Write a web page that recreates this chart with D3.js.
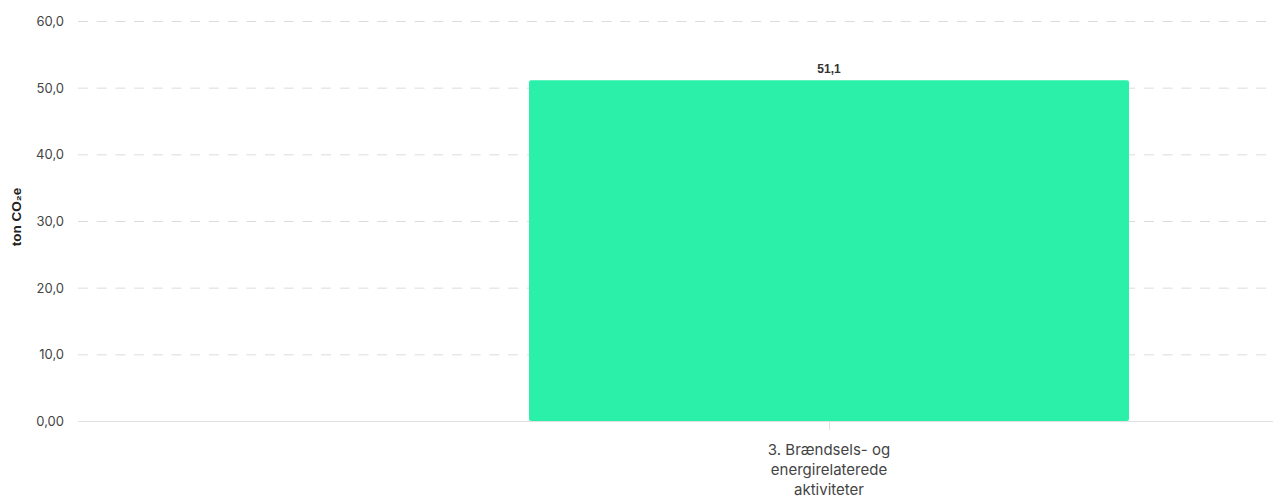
<!DOCTYPE html>
<html><head><meta charset="utf-8">
<script src="https://cdn.jsdelivr.net/npm/d3@7"></script>
<style>
html,body{margin:0;padding:0;background:#fff;overflow:hidden;}
svg{display:block;}
</style></head>
<body>
<svg id="chart" width="1273" height="497"></svg>
<script>
const categories = ["3. Brændsels- og energirelaterede aktiviteter"];
const categoryLines = [["3. Brændsels- og", "energirelaterede", "aktiviteter"]];
const values = [51.1];
const valueLabels = ["51,1"];
const yTicks = [0, 10, 20, 30, 40, 50, 60];
const yTickLabels = ["0,00", "10,0", "20,0", "30,0", "40,0", "50,0", "60,0"];
const yTitle = "ton CO\u2082e";

(function() {
const svg = d3.select("#chart");
const pLeft = 78, pRight = 1580, pTop = 21, pBottom = 421;

const y = d3.scaleLinear().domain([0, 60]).range([pBottom, pTop]);
const x = d3.scaleBand().domain(categories).range([pLeft, pRight]).paddingInner(0.6).paddingOuter(0.3);

// grid
svg.append("g").selectAll("line").data(yTicks).join("line")
  .attr("x1", pLeft).attr("x2", pRight)
  .attr("y1", d => y(d) + 0.5).attr("y2", d => y(d) + 0.5)
  .attr("stroke", "#dcdcdc").attr("stroke-width", 1)
  .attr("stroke-dasharray", "10,8.7");

// y tick labels
svg.append("g").selectAll("text").data(yTicks).join("text")
  .attr("x", 64).attr("y", d => y(d) + 0.5)
  .attr("dy", "0.35em").attr("text-anchor", "end")
  .attr("font-family", "Inter, 'Noto Sans', sans-serif").attr("font-size", 13)
  .attr("fill", "#444")
  .text((d, i) => yTickLabels[i]);

// y title
svg.append("text")
  .attr("transform", `translate(21,217) rotate(-90)`)
  .attr("text-anchor", "middle")
  .attr("font-family", "'Liberation Sans', Arial, sans-serif")
  .attr("font-size", 13.5).attr("font-weight", "bold").attr("fill", "#222")
  .text(yTitle);

// bars
const bw = 600;
svg.append("g").selectAll("rect").data(values).join("rect")
  .attr("x", (d, i) => x(categories[i]) + x.bandwidth() / 2 - bw / 2)
  .attr("width", bw)
  .attr("y", d => y(d))
  .attr("height", d => y(0) - y(d))
  .attr("rx", 2).attr("ry", 2)
  .attr("fill", "#2af0aa");

// baseline
svg.append("line")
  .attr("x1", pLeft).attr("x2", pRight)
  .attr("y1", pBottom + 0.5).attr("y2", pBottom + 0.5)
  .attr("stroke", "#e0e0e0").attr("stroke-width", 1);

// x tick
svg.append("g").selectAll("line").data(categories).join("line")
  .attr("x1", d => x(d) + x.bandwidth() / 2 + 0.5).attr("x2", d => x(d) + x.bandwidth() / 2 + 0.5)
  .attr("y1", pBottom).attr("y2", pBottom + 9)
  .attr("stroke", "#e0e0e0");

// value labels
svg.append("g").selectAll("text").data(values).join("text")
  .attr("x", (d, i) => x(categories[i]) + x.bandwidth() / 2)
  .attr("y", d => y(d) - 7)
  .attr("text-anchor", "middle")
  .attr("font-family", "'Liberation Sans', Arial, sans-serif")
  .attr("font-size", 12).attr("font-weight", "bold").attr("fill", "#333")
  .text((d, i) => valueLabels[i]);

// category labels
const cl = svg.append("g").selectAll("text").data(categories).join("text")
  .attr("text-anchor", "middle")
  .attr("font-family", "Inter, 'Noto Sans', sans-serif").attr("font-size", 15)
  .attr("fill", "#444");
cl.each(function(d, i) {
  const t = d3.select(this);
  categoryLines[i].forEach((ln, j) => {
    t.append("tspan").attr("x", x(d) + x.bandwidth() / 2).attr("y", 455 + j * 20).text(ln);
  });
});
})();
</script>
</body></html>
